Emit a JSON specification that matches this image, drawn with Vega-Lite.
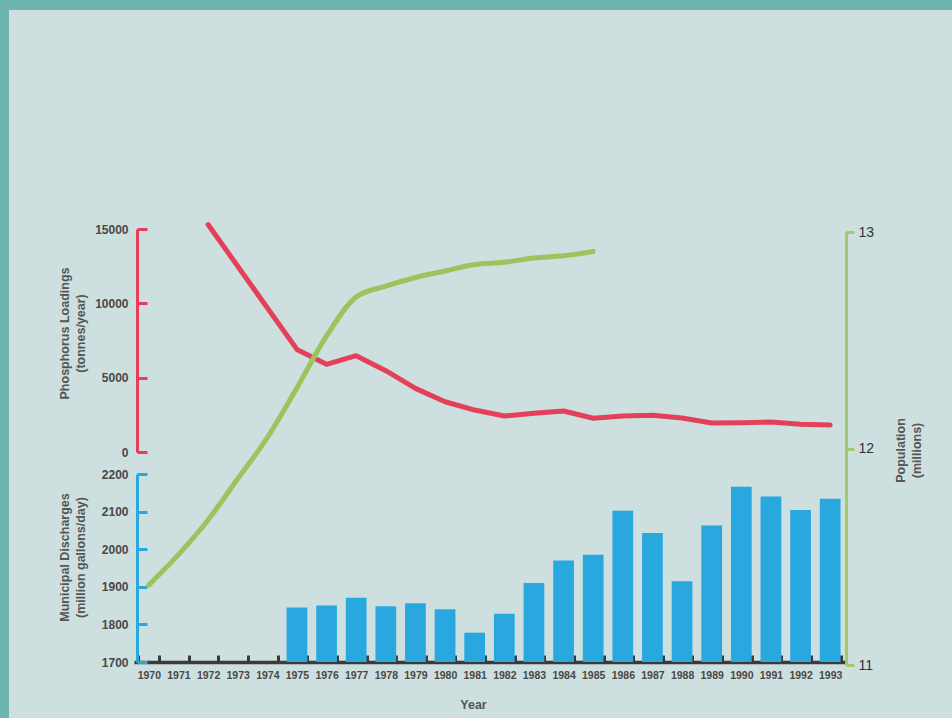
{
  "$schema": "https://vega.github.io/schema/vega-lite/v6.json",
  "width": 943,
  "height": 708,
  "autosize": {"type": "none"},
  "padding": {"left": 9, "top": 10, "right": 0, "bottom": 0},
  "background": "#6cb4ad",
  "config": {
    "view": {"fill": "#cde0df", "stroke": null},
    "font": "Liberation Sans, Arial, sans-serif",
    "axis": {
      "grid": false,
      "labelFont": "Liberation Sans, Arial, sans-serif",
      "titleFont": "Liberation Sans, Arial, sans-serif",
      "labelColor": "#484848",
      "titleColor": "#555555",
      "labelFontWeight": "bold",
      "titleFontWeight": "bold",
      "labelFontSize": 12,
      "titleFontSize": 12.5,
      "labelOverlap": false
    }
  },
  "data": {
    "values": [
      {"year": 1970, "discharge": null, "phosphorus": null, "population": 11.37},
      {"year": 1971, "discharge": null, "phosphorus": null, "population": 11.51},
      {"year": 1972, "discharge": null, "phosphorus": 15300, "population": 11.67},
      {"year": 1973, "discharge": null, "phosphorus": null, "population": 11.86},
      {"year": 1974, "discharge": null, "phosphorus": null, "population": 12.05},
      {"year": 1975, "discharge": 1845, "phosphorus": 6900, "population": 12.28},
      {"year": 1976, "discharge": 1850, "phosphorus": 5900, "population": 12.52},
      {"year": 1977, "discharge": 1871, "phosphorus": 6480, "population": 12.70},
      {"year": 1978, "discharge": 1848, "phosphorus": 5470, "population": 12.75},
      {"year": 1979, "discharge": 1856, "phosphorus": 4280, "population": 12.79},
      {"year": 1980, "discharge": 1840, "phosphorus": 3380, "population": 12.82},
      {"year": 1981, "discharge": 1778, "phosphorus": 2820, "population": 12.85},
      {"year": 1982, "discharge": 1828, "phosphorus": 2420, "population": 12.86},
      {"year": 1983, "discharge": 1910, "phosphorus": 2600, "population": 12.88},
      {"year": 1984, "discharge": 1970, "phosphorus": 2760, "population": 12.89},
      {"year": 1985, "discharge": 1985, "phosphorus": 2270, "population": 12.91},
      {"year": 1986, "discharge": 2102, "phosphorus": 2420, "population": null},
      {"year": 1987, "discharge": 2043, "phosphorus": 2470, "population": null},
      {"year": 1988, "discharge": 1915, "phosphorus": 2290, "population": null},
      {"year": 1989, "discharge": 2063, "phosphorus": 1950, "population": null},
      {"year": 1990, "discharge": 2166, "phosphorus": 1970, "population": null},
      {"year": 1991, "discharge": 2140, "phosphorus": 2020, "population": null},
      {"year": 1992, "discharge": 2104, "phosphorus": 1860, "population": null},
      {"year": 1993, "discharge": 2134, "phosphorus": 1815, "population": null}
    ]
  },
  "encoding": {
    "x": {
      "field": "year",
      "type": "ordinal",
      "scale": {
        "domain": [1970, 1971, 1972, 1973, 1974, 1975, 1976, 1977, 1978, 1979, 1980, 1981, 1982, 1983, 1984, 1985, 1986, 1987, 1988, 1989, 1990, 1991, 1992, 1993],
        "range": [125, 836],
        "paddingInner": 0.3,
        "paddingOuter": 0.15
      },
      "axis": {
        "orient": "bottom",
        "offset": -56,
        "title": "Year",
        "titleX": 464,
        "titleY": 42,
        "titleBaseline": "middle",
        "titleAlign": "center",
        "labelAngle": 0,
        "labelFontSize": 10.5,
        "labelPadding": 15,
        "domainColor": "#3a3a3a",
        "domainWidth": 3.5,
        "tickBand": "extent",
        "tickSize": -7,
        "tickWidth": 3,
        "tickColor": "#3a3a3a"
      }
    }
  },
  "layer": [
    {
      "transform": [{"filter": "datum.discharge != null"}],
      "mark": {"type": "bar", "color": "#29a8e0"},
      "encoding": {
        "y": {
          "field": "discharge",
          "type": "quantitative",
          "scale": {"domain": [1700, 2200], "range": [652, 464], "zero": false, "nice": false},
          "axis": {
            "orient": "left",
            "offset": -128,
            "values": [1700, 1800, 1900, 2000, 2100, 2200],
            "format": "d",
            "title": ["Municipal Discharges", "(million gallons/day)"],
            "titleX": -73,
            "titleY": 547,
            "titleAngle": -90,
            "titleBaseline": "middle",
            "titleAlign": "center",
            "titleLineHeight": 16,
            "domainColor": "#29a8e0",
            "domainWidth": 3,
            "tickColor": "#29a8e0",
            "tickWidth": 3,
            "tickSize": -10,
            "labelPadding": 19
          }
        },
        "y2": {"datum": 1700}
      }
    },
    {
      "transform": [{"filter": "datum.phosphorus != null"}],
      "mark": {"type": "line", "color": "#e5405a", "strokeWidth": 5, "strokeCap": "round", "strokeJoin": "round"},
      "encoding": {
        "y": {
          "field": "phosphorus",
          "type": "quantitative",
          "scale": {"domain": [0, 15000], "range": [442, 219], "nice": false},
          "axis": {
            "orient": "left",
            "offset": -128,
            "values": [0, 5000, 10000, 15000],
            "format": "d",
            "title": ["Phosphorus Loadings", "(tonnes/year)"],
            "titleX": -73,
            "titleY": 323,
            "titleAngle": -90,
            "titleBaseline": "middle",
            "titleAlign": "center",
            "titleLineHeight": 16,
            "domainColor": "#e5405a",
            "domainWidth": 3,
            "tickColor": "#e5405a",
            "tickWidth": 3,
            "tickSize": -10,
            "labelPadding": 19
          }
        }
      }
    },
    {
      "transform": [{"filter": "datum.population != null"}],
      "mark": {"type": "line", "color": "#9cc35c", "strokeWidth": 5, "strokeCap": "round", "interpolate": "monotone"},
      "encoding": {
        "y": {
          "field": "population",
          "type": "quantitative",
          "scale": {"domain": [11, 13], "range": [655, 222], "zero": false, "nice": false},
          "axis": {
            "orient": "right",
            "offset": -106,
            "values": [11, 12, 13],
            "format": ".0f",
            "title": ["Population", "(millions)"],
            "titleX": 54,
            "titleY": 440,
            "titleAngle": -90,
            "titleBaseline": "middle",
            "titleAlign": "center",
            "titleLineHeight": 16,
            "domainColor": "#a6c966",
            "domainWidth": 3,
            "tickColor": "#a6c966",
            "tickWidth": 3,
            "tickSize": 8,
            "labelPadding": 4,
            "labelFontWeight": "normal",
            "labelFontSize": 14,
            "labelColor": "#333333"
          }
        }
      }
    }
  ],
  "resolve": {"scale": {"y": "independent"}, "axis": {"y": "independent"}}
}
